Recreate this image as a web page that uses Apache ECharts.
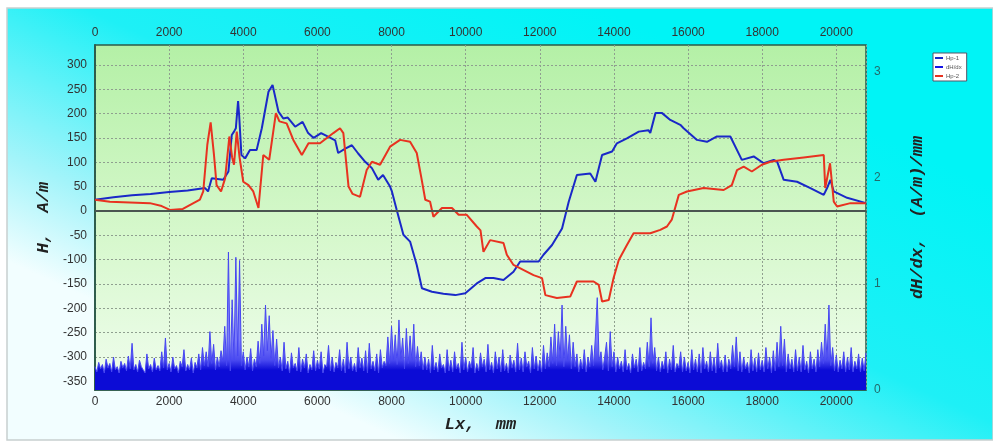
<!DOCTYPE html>
<html>
<head>
<meta charset="utf-8">
<script src="https://cdn.jsdelivr.net/npm/echarts@6/dist/echarts.min.js"></script>
<style>
    html, body { margin: 0; padding: 0; background: #ffffff; }
    #main { width: 993px; height: 445px; }
</style>
</head>
<body>
<div id="main"></div>
<script>
// Hp-1 (blue) [Lx mm, H A/m]
var hp1 = [[0,23],[500,28],[1000,32],[1500,35],[2000,39],[2500,42],[2970,47],[3050,40],[3150,67],[3460,64],
    [3600,81],[3690,156],[3750,163],[3800,170],[3860,226],[3890,195],[3950,115],[4050,108],[4180,125],[4360,125],
    [4500,170],[4680,245],[4790,259],[4950,204],[5080,190],[5200,192],[5400,173],[5600,183],[5750,160],[5900,150],
    [6100,160],[6300,152],[6480,145],[6560,119],[6750,128],[6930,135],[7100,118],[7290,101],[7470,88],[7640,64],
    [7770,74],[7960,50],[8010,40],[8140,2],[8320,-49],[8500,-63],[8680,-111],[8820,-159],[9090,-166],[9400,-170],
    [9720,-173],[9990,-169],[10300,-149],[10530,-138],[10750,-138],[11020,-142],[11290,-125],[11470,-104],[11970,-104],[12100,-90],
    [12330,-70],[12600,-36],[12780,19],[13000,74],[13360,77],[13500,60],[13680,115],[13950,122],[14080,139],[14350,149],
    [14670,163],[14930,166],[14980,160],[15120,201],[15300,201],[15520,187],[15790,177],[15880,170],[16240,146],[16510,142],
    [16780,153],[17140,153],[17450,105],[17770,112],[18040,98],[18310,105],[18400,102],[18580,64],[18940,60],[19300,47],
    [19660,33],[19750,47],[19840,64],[19930,40],[20290,27],[20800,16]];

// Hp-2 (red)
var hp2 = [[0,23],[400,19],[1480,16],[1800,10],[2020,2],[2370,4],[2830,23],[2920,40],[3030,136],[3120,182],
    [3210,115],[3280,53],[3400,40],[3510,67],[3625,153],[3700,110],[3750,95],[3824,163],[3900,110],[4000,60],
    [4140,53],[4270,40],[4410,6],[4540,115],[4700,105],[4880,201],[4975,184],[5170,180],[5350,146],[5580,115],
    [5760,139],[6070,139],[6430,160],[6610,170],[6700,160],[6840,50],[6950,35],[7150,29],[7330,84],[7470,101],
    [7690,95],[7960,132],[8230,146],[8500,142],[8680,119],[8800,70],[8910,23],[9040,19],[9130,-12],[9360,6],
    [9630,6],[9810,-8],[10030,-8],[10300,-32],[10400,-40],[10480,-84],[10660,-60],[11020,-66],[11110,-90],[11290,-111],
    [11830,-132],[12060,-138],[12150,-173],[12460,-179],[12820,-176],[13000,-145],[13450,-145],[13590,-152],[13680,-186],[13860,-183],
    [13990,-138],[14130,-101],[14350,-70],[14530,-46],[14980,-46],[15250,-39],[15430,-32],[15560,-18],[15750,33],[15970,40],
    [16420,47],[16960,43],[17180,53],[17320,84],[17500,91],[17720,81],[17990,95],[18220,101],[18580,105],[19120,110],
    [19660,115],[19700,47],[19830,98],[19930,19],[20020,9],[20380,16],[20800,16]];

// dH/dx, one reading per 50 mm, 1000 mm per row
var dhStep = 50;
var dhdx = [
    0.22,0.17,0.26,0.2,0.24,0.16,0.29,0.21,0.25,0.17,0.31,0.19,0.22,0.16,0.27,0.21,0.25,0.18,0.32,0.2,
    0.44,0.19,0.24,0.17,0.28,0.22,0.23,0.16,0.34,0.2,0.24,0.17,0.3,0.19,0.23,0.18,0.36,0.21,0.49,0.19,
    0.25,0.17,0.31,0.2,0.23,0.16,0.27,0.22,0.38,0.18,0.24,0.19,0.3,0.16,0.26,0.21,0.34,0.19,0.4,0.23,
    0.36,0.22,0.55,0.25,0.43,0.19,0.31,0.22,0.37,0.27,0.6,0.23,1.3,0.18,0.85,0.27,1.25,0.32,1.22,0.23,
    0.36,0.19,0.31,0.22,0.39,0.18,0.29,0.22,0.46,0.25,0.62,0.32,0.8,0.37,0.7,0.3,0.56,0.23,0.48,0.21,
    0.31,0.18,0.45,0.2,0.27,0.16,0.35,0.21,0.25,0.18,0.4,0.17,0.29,0.21,0.34,0.16,0.24,0.19,0.37,0.18,
    0.28,0.2,0.36,0.16,0.24,0.22,0.42,0.18,0.31,0.17,0.26,0.21,0.38,0.18,0.29,0.16,0.45,0.2,0.31,0.18,
    0.25,0.17,0.4,0.21,0.3,0.18,0.37,0.16,0.44,0.2,0.27,0.18,0.34,0.16,0.38,0.21,0.27,0.23,0.5,0.25,
    0.6,0.28,0.52,0.24,0.66,0.29,0.49,0.2,0.58,0.25,0.51,0.28,0.62,0.22,0.41,0.23,0.36,0.19,0.31,0.19,
    0.29,0.16,0.42,0.19,0.26,0.17,0.34,0.21,0.24,0.16,0.38,0.18,0.28,0.17,0.36,0.2,0.25,0.16,0.45,0.19,
    0.31,0.17,0.27,0.21,0.4,0.16,0.25,0.18,0.35,0.22,0.29,0.17,0.43,0.19,0.26,0.16,0.36,0.2,0.31,0.17,
    0.38,0.18,0.25,0.16,0.33,0.21,0.28,0.17,0.44,0.19,0.3,0.17,0.36,0.22,0.27,0.16,0.4,0.2,0.32,0.18,
    0.28,0.17,0.42,0.2,0.35,0.22,0.5,0.25,0.62,0.23,0.55,0.3,0.8,0.22,0.6,0.28,0.52,0.2,0.45,0.22,
    0.34,0.17,0.29,0.2,0.38,0.17,0.31,0.22,0.42,0.23,0.5,0.87,0.27,0.36,0.19,0.31,0.45,0.18,0.55,0.22,
    0.36,0.17,0.31,0.2,0.27,0.17,0.38,0.19,0.25,0.16,0.34,0.21,0.29,0.17,0.4,0.18,0.26,0.2,0.45,0.22,
    0.68,0.25,0.4,0.18,0.31,0.17,0.27,0.2,0.36,0.16,0.29,0.19,0.42,0.17,0.25,0.21,0.36,0.17,0.31,0.18,
    0.26,0.16,0.38,0.19,0.29,0.17,0.34,0.16,0.4,0.2,0.27,0.17,0.36,0.18,0.31,0.16,0.44,0.21,0.28,0.17,
    0.33,0.17,0.29,0.2,0.42,0.22,0.5,0.18,0.36,0.17,0.31,0.2,0.26,0.16,0.38,0.18,0.3,0.17,0.35,0.19,
    0.28,0.17,0.4,0.2,0.31,0.16,0.37,0.18,0.45,0.22,0.6,0.23,0.48,0.17,0.34,0.2,0.29,0.17,0.38,0.18,
    0.31,0.17,0.42,0.19,0.27,0.16,0.36,0.2,0.29,0.17,0.38,0.22,0.45,0.25,0.62,0.28,0.8,0.23,0.4,0.18,
    0.33,0.17,0.28,0.2,0.36,0.17,0.31,0.19,0.4,0.17,0.27,0.2,0.34,0.17,0.3,0.18,0.35
];

var hTicks = [-350,-300,-250,-200,-150,-100,-50,0,50,100,150,200,250,300];
var seriesNames = ['Hp-1', 'dH/dx', 'Hp-2'];

init();

function init() {
    var myChart = echarts.init(document.getElementById('main'));
    var dhData = [];
    for (var i = 0; i < dhdx.length; i++) {
        dhData.push([i * dhStep, dhdx[i]]);
    }
    var labelFont = 'Liberation Sans';
    var plain = function (v) { return String(v); };
    var nameStyle = {
        fontFamily: 'Liberation Mono',
        fontStyle: 'italic',
        fontWeight: 'bold',
        fontSize: 17,
        color: '#222'
    };
    var gridLine = {show: true, lineStyle: {color: '#8f9f8f', type: [2, 2], width: 1}};
    var xCommon = {
        type: 'value',
        min: 0,
        max: 20800,
        interval: 2000,
        axisTick: {show: false},
        axisLine: {lineStyle: {color: '#2d5a4a', width: 1.5}},
        axisLabel: {fontFamily: labelFont, fontSize: 12, color: '#333', margin: 6,
            showMaxLabel: false, formatter: plain}
    };
    var option = {
        animation: false,
        graphic: [{
            type: 'rect',
            z: -10,
            shape: {x: 7, y: 8, width: 986, height: 432},
            style: {
                fill: {
                    type: 'linear', x: 0.6, y: 0, x2: 0.4, y2: 1,
                    colorStops: [
                        {offset: 0, color: '#00f4f6'},
                        {offset: 0.45, color: '#1ef0f6'},
                        {offset: 0.8, color: '#a4f4fa'},
                        {offset: 1, color: '#f2feff'}
                    ]
                },
                stroke: '#c8d0d0',
                lineWidth: 1.5
            }
        }],
        grid: {
            left: 95, right: 127, top: 45, bottom: 55,
            show: true,
            borderColor: '#2d5a4a',
            borderWidth: 1.5,
            backgroundColor: {
                type: 'linear', x: 0, y: 0, x2: 0, y2: 1,
                colorStops: [
                    {offset: 0, color: '#b4f0a6'},
                    {offset: 0.55, color: '#d6f8cc'},
                    {offset: 1, color: '#f0fdee'}
                ]
            }
        },
        legend: {
            data: seriesNames,
            orient: 'vertical',
            left: 933,
            top: 53,
            itemWidth: 8,
            itemHeight: 2,
            itemGap: 3,
            padding: [2, 5, 2, 2],
            icon: 'rect',
            backgroundColor: '#ffffff',
            borderColor: '#556',
            borderWidth: 1,
            textStyle: {fontSize: 6, color: '#555', fontFamily: labelFont, padding: [0, 0, 0, -2]}
        },
        xAxis: [
            echarts.util.merge({
                position: 'bottom',
                name: 'Lx,  mm',
                nameLocation: 'middle',
                nameGap: 26,
                nameTextStyle: nameStyle,
                splitLine: gridLine
            }, xCommon, true),
            echarts.util.merge({
                position: 'top',
                splitLine: {show: false}
            }, xCommon, true)
        ],
        yAxis: [
            {
                type: 'value',
                min: -368,
                max: 341,
                position: 'left',
                name: 'H,  A/m',
                nameLocation: 'middle',
                nameGap: 40,
                nameRotate: 90,
                nameTextStyle: nameStyle,
                axisLine: {show: true, lineStyle: {color: '#2d5a4a', width: 1.5}},
                axisTick: {show: false, customValues: hTicks},
                axisLabel: {customValues: hTicks, fontFamily: labelFont, fontSize: 12, color: '#333', margin: 8},
                splitLine: gridLine
            },
            {
                type: 'value',
                min: 0,
                max: 3.25,
                interval: 1,
                position: 'right',
                name: 'dH/dx,  (A/m)/mm',
                nameLocation: 'middle',
                nameGap: 43,
                nameRotate: 90,
                nameTextStyle: nameStyle,
                axisLine: {show: true, lineStyle: {color: '#2d5a4a', width: 1.5}},
                axisTick: {show: false},
                axisLabel: {fontFamily: labelFont, fontSize: 12, color: '#236b6b', margin: 8, showMaxLabel: false},
                splitLine: {show: false}
            }
        ],
        series: [
            {
                name: 'dH/dx',
                type: 'line',
                yAxisIndex: 1,
                data: dhData,
                symbol: 'none',
                lineStyle: {color: '#4646f2', width: 1},
                itemStyle: {color: '#1414e6'},
                areaStyle: {
                    opacity: 1,
                    color: {
                        type: 'linear', global: true, x: 0, y: 390, x2: 0, y2: 340,
                        colorStops: [
                            {offset: 0, color: '#0c0cd6'},
                            {offset: 0.4, color: '#0c0cd6'},
                            {offset: 0.6, color: '#4a4af0'},
                            {offset: 1, color: '#7c7cfa'}
                        ]
                    }
                },
                z: 1
            },
            {
                name: 'Hp-1',
                type: 'line',
                data: hp1,
                symbol: 'none',
                lineStyle: {color: '#1a28c8', width: 2},
                itemStyle: {color: '#1a28c8'},
                markLine: {
                    silent: true,
                    symbol: 'none',
                    label: {show: false},
                    lineStyle: {color: '#4a5550', width: 2, type: 'solid'},
                    data: [{yAxis: 0}]
                },
                z: 3
            },
            {
                name: 'Hp-2',
                type: 'line',
                data: hp2,
                symbol: 'none',
                lineStyle: {color: '#e83220', width: 2},
                itemStyle: {color: '#e83220'},
                z: 4
            }
        ]
    };
    myChart.setOption(option);
}
</script>
</body>
</html>
